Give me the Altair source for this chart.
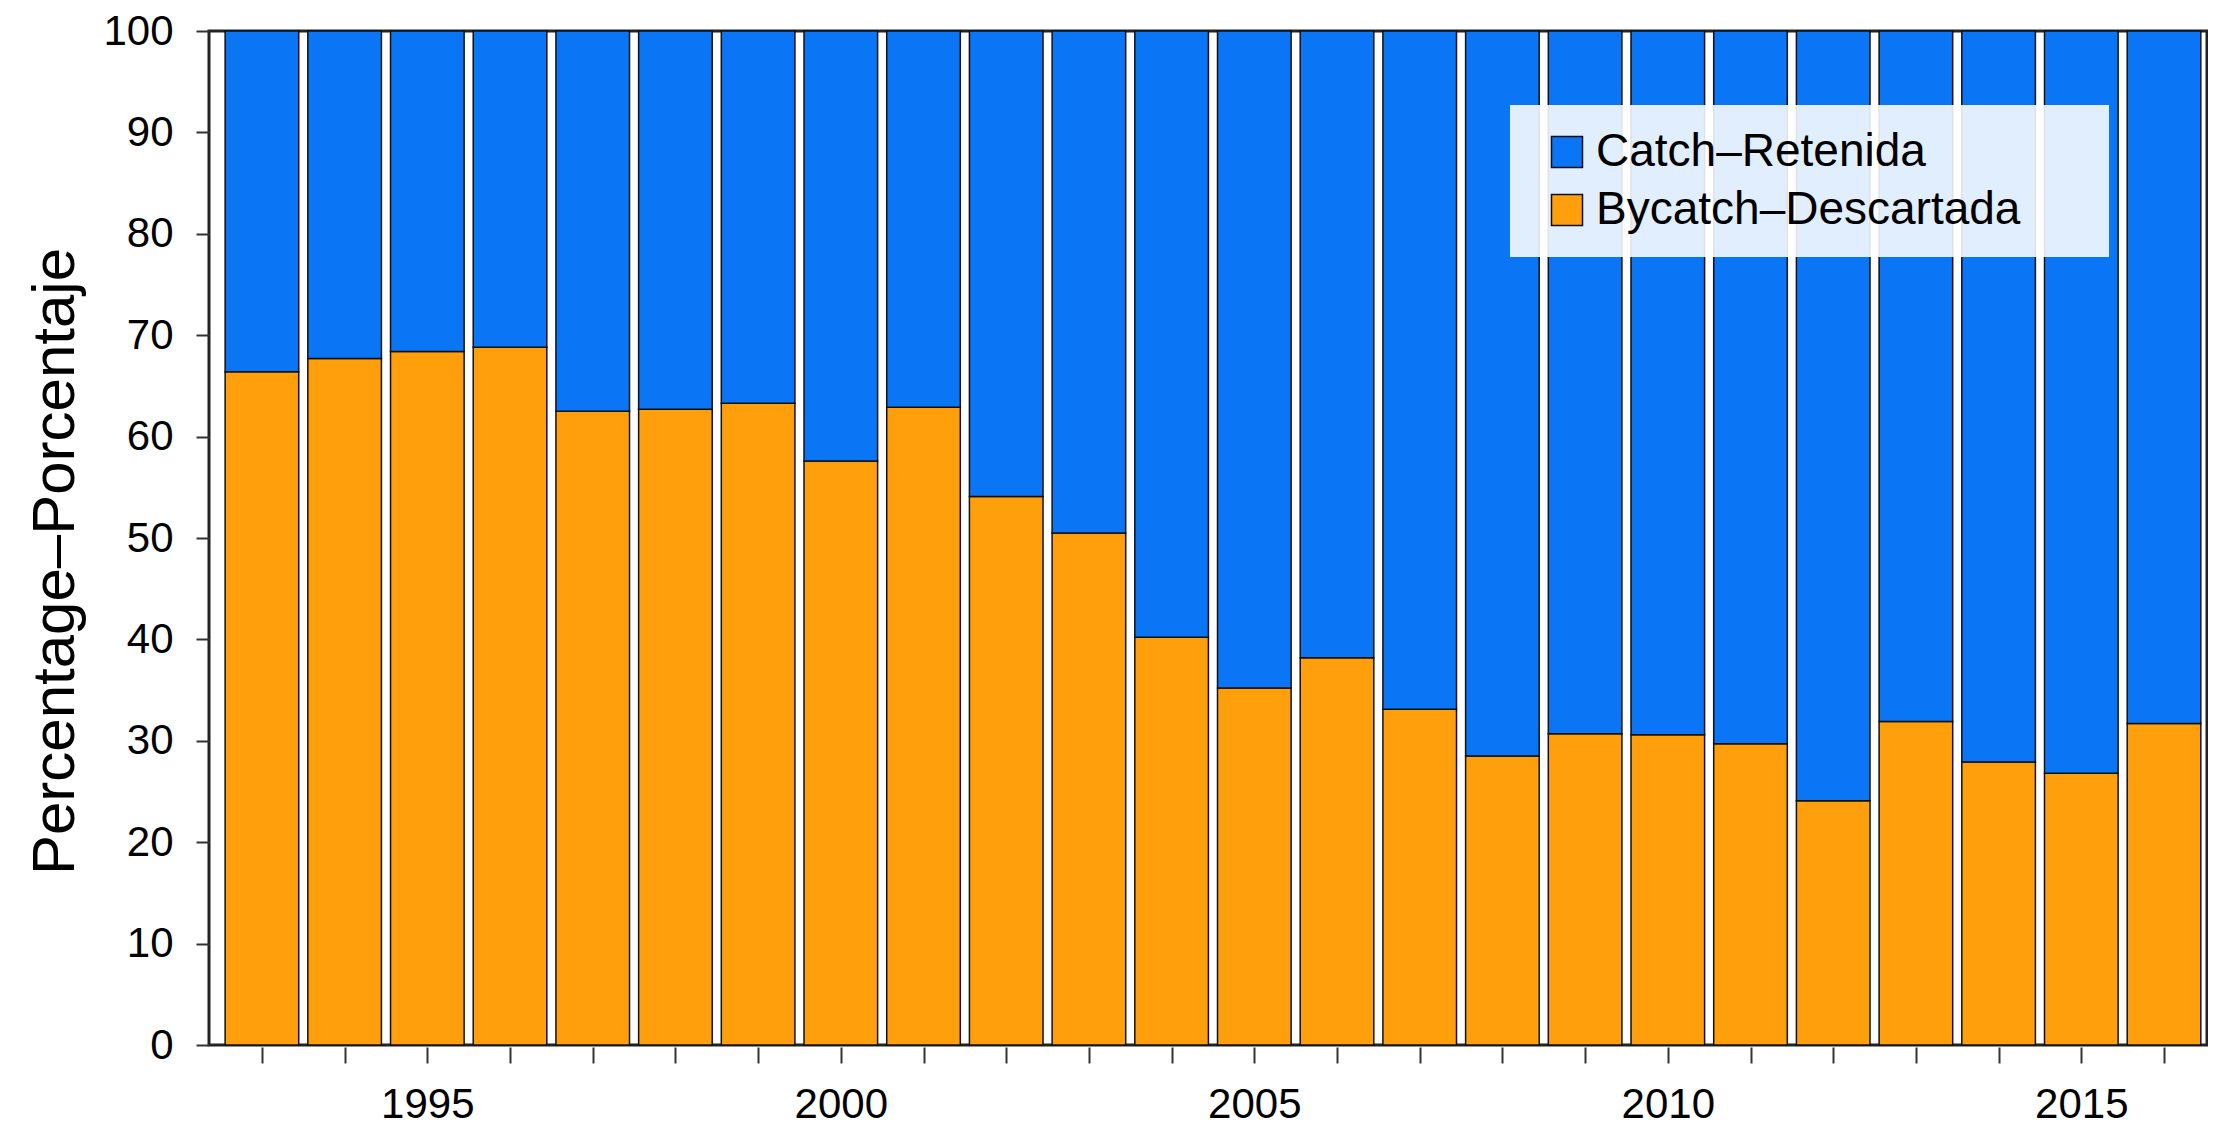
import altair as alt
import pandas as pd

# ---- data ----
years = list(range(1993, 2017))
bycatch = [66.4, 67.7, 68.4, 68.8, 62.5, 62.7, 63.3, 57.6, 62.9, 54.1, 50.5, 40.2,
           35.2, 38.2, 33.1, 28.5, 30.7, 30.6, 29.7, 24.1, 31.9, 27.9, 26.8, 31.7]
catch = [round(100 - b, 1) for b in bycatch]
series = ["Catch–Retenida", "Bycatch–Descartada"]
colors = ["#0a75f5", "#ff9f0b"]
y_ticks = list(range(0, 101, 10))

rows = []
for yr, b, c in zip(years, bycatch, catch):
    rows.append({"year": yr, "series": series[1], "value": b, "ord": 0})
    rows.append({"year": yr, "series": series[0], "value": c, "ord": 1})
df = pd.DataFrame(rows)

FONT = "Liberation Sans"
pad_text = "\u00a0" * 5 + "\u200b"

chart = alt.Chart(df).transform_calculate(
    x0="datum.year - 0.445", x1="datum.year + 0.445"
).transform_stack(
    stack="value", groupby=["year"], as_=["low", "high"],
    sort=[alt.SortField("ord", order="ascending")]
).mark_bar(stroke="#111111", strokeWidth=1.5).encode(
    x=alt.X("x0:Q",
            scale=alt.Scale(domain=[1992.36, 2016.52], nice=False, zero=False),
            axis=alt.Axis(values=years,
                          labelExpr="datum.value % 5 === 0 ? '' + datum.value : ''",
                          tickSize=16, offset=2, labelPadding=21, domain=False,
                          grid=False, labelFlush=False, labelOverlap=False,
                          labelFontSize=42, labelFont=FONT, labelColor="#000000",
                          tickColor="#333333", tickWidth=2),
            title=None),
    x2="x1:Q",
    y=alt.Y("low:Q",
            scale=alt.Scale(domain=[0, 100], nice=False),
            axis=alt.Axis(values=y_ticks, tickSize=13, labelPadding=23, domain=False,
                          grid=False, labelFontSize=42, labelFont=FONT,
                          labelColor="#000000", tickColor="#333333", tickWidth=2,
                          titleFontSize=60, titleFont=FONT, titleFontWeight="normal",
                          titleColor="#000000", titleX=-136, titleY=530, titleAngle=270,
                          titleBaseline="alphabetic", titleAlign="center"),
            title="Percentage–Porcentaje"),
    y2="high:Q",
    color=alt.Color("series:N",
                    scale=alt.Scale(domain=series, range=colors),
                    legend=alt.Legend(orient="none", legendX=1301, legendY=74,
                                      title=None, fillColor="rgba(255,255,255,0.88)",
                                      padding=24, labelFontSize=46, labelFont=FONT,
                                      labelColor="#000000", labelLimit=1000,
                                      symbolType="square", symbolSize=961,
                                      symbolStrokeColor="#111111", symbolStrokeWidth=1.5,
                                      symbolOpacity=1, labelOffset=6, symbolOffset=10,
                                      rowPadding=12,
                                      labelExpr="datum.label + '" + pad_text + "'")),
).properties(
    width=1998, height=1014,
    autosize=alt.AutoSizeParams(type="none"),
    padding={"left": 201, "top": 23, "right": 1, "bottom": 84},
).configure_view(stroke="#222222", strokeWidth=3)

chart.save("out.html", embed_options={"renderer": "svg", "actions": False})
